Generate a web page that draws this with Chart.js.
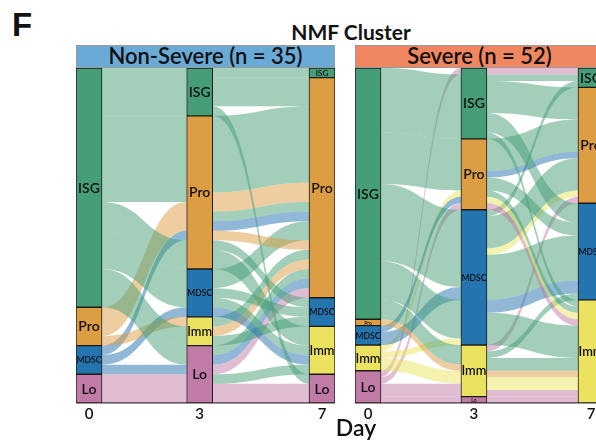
<!DOCTYPE html>
<html>
<head>
<meta charset="utf-8">
<script src="https://cdn.jsdelivr.net/npm/chart.js@4.4.1/dist/chart.umd.min.js"></script>
<style>
  html, body { margin: 0; padding: 0; background: #fff; overflow: hidden; }
  body { width: 596px; height: 442px; position: relative; font-family: Lato, "Open Sans", sans-serif; color: #111; }
  .abs { position: absolute; }
  #letter { left: 12px; top: 6px; font: bold 33px "Liberation Sans", Arial, sans-serif; }
  #title { left: 251px; width: 200px; top: 19px; text-align: center; font: 700 21px Lato, sans-serif; }
  .head { top: 45px; height: 23px; box-sizing: border-box; border: 1px solid #9a9a9a; text-align: center;
          font: 600 22px Lato, sans-serif; line-height: 20px; white-space: nowrap; }
  #headLeft { left: 76px; width: 259px; background: #6aaad6; }
  #headRight { left: 355px; width: 249px; background: #f08660; }
  #dayTitle { left: 306px; width: 100px; top: 413px; text-align: center; font: 600 23px Lato, sans-serif; }
  canvas { position: absolute; top: 68px; }
  #nonSevere { left: 76px; }
  #severe { left: 355px; }
</style>
</head>
<body>
<div id="letter" class="abs">F</div>
<div id="title" class="abs">NMF Cluster</div>
<div id="headLeft" class="abs head">Non-Severe (n = 35)</div>
<div id="headRight" class="abs head">Severe (n = 52)</div>
<canvas id="nonSevere" width="259" height="356"></canvas>
<canvas id="severe" width="249" height="356"></canvas>
<div id="dayTitle" class="abs">Day</div>
<script>
const strata = ["ISG", "Pro", "MDSC", "Imm", "Lo"];
const days = ["0", "3", "7"];
const stratumColors = ["#459e75", "#dd9e43", "#2474b0", "#ebe35f", "#c17ba7"];
const flowColors = [
  "rgba(69,158,117,0.5)",
  "rgba(221,158,67,0.5)",
  "rgba(36,116,176,0.5)",
  "rgba(235,227,95,0.5)",
  "rgba(193,123,167,0.5)",
];

// patients per cluster (ISG, Pro, MDSC, Imm, Lo)
const nonSevereDay0 = [25, 4, 3, 0, 3];
const nonSevereDay3 = [5, 16, 5, 3, 6];
const nonSevereDay7 = [1, 23, 3, 5, 3];
const severeDay0 = [39, 1, 3, 4, 5];
const severeDay3 = [11, 11, 21, 8, 1];
const severeDay7 = [3, 18, 15, 16, 0];

// flows: [from, to, day 0 cluster (fill), patients]
// listed in the order they arrive in the next cluster, top to bottom
const nonSevereFlow03 = [
  ["ISG", "ISG", "ISG", 5],
  ["ISG", "Pro", "ISG", 9], ["Pro", "Pro", "Pro", 3], ["MDSC", "Pro", "MDSC", 1], ["ISG", "Pro", "ISG", 3],
  ["ISG", "MDSC", "ISG", 4], ["MDSC", "MDSC", "MDSC", 1],
  ["Pro", "Imm", "Pro", 1], ["ISG", "Imm", "ISG", 2],
  ["ISG", "Lo", "ISG", 2], ["MDSC", "Lo", "MDSC", 1], ["Lo", "Lo", "Lo", 3],
];
const nonSevereFlow37 = [
  ["ISG", "ISG", "ISG", 1],
  ["ISG", "Pro", "ISG", 3], ["Pro", "Pro", "ISG", 8], ["Pro", "Pro", "Pro", 2], ["Pro", "Pro", "ISG", 1],
  ["Pro", "Pro", "MDSC", 1], ["MDSC", "Pro", "ISG", 2], ["Pro", "Pro", "Pro", 1], ["Imm", "Pro", "ISG", 1],
  ["Imm", "Pro", "Pro", 1], ["Lo", "Pro", "ISG", 1], ["Lo", "Pro", "MDSC", 1], ["Lo", "Pro", "Lo", 1],
  ["Pro", "MDSC", "ISG", 1], ["MDSC", "MDSC", "ISG", 1], ["Imm", "MDSC", "ISG", 1],
  ["Pro", "Imm", "ISG", 2], ["MDSC", "Imm", "ISG", 1], ["MDSC", "Imm", "MDSC", 1], ["Lo", "Imm", "ISG", 1],
  ["ISG", "Lo", "ISG", 1], ["Lo", "Lo", "Lo", 2],
];
const severeFlow03 = [
  ["Lo", "ISG", "Lo", 1], ["ISG", "ISG", "ISG", 10],
  ["ISG", "Pro", "ISG", 8], ["Imm", "Pro", "Imm", 1], ["MDSC", "Pro", "MDSC", 1], ["Lo", "Pro", "Lo", 1],
  ["ISG", "MDSC", "ISG", 12], ["MDSC", "MDSC", "MDSC", 2], ["ISG", "MDSC", "ISG", 6], ["Imm", "MDSC", "Imm", 1],
  ["ISG", "Imm", "ISG", 3], ["Pro", "Imm", "Pro", 1], ["Imm", "Imm", "Imm", 2], ["Lo", "Imm", "Lo", 2],
  ["Lo", "Lo", "Lo", 1],
];
const severeFlow37 = [
  ["ISG", "ISG", "Lo", 1], ["ISG", "ISG", "ISG", 1], ["MDSC", "ISG", "ISG", 1],
  ["ISG", "Pro", "ISG", 5], ["Pro", "Pro", "ISG", 5], ["Pro", "Pro", "MDSC", 1],
  ["MDSC", "Pro", "ISG", 5], ["MDSC", "Pro", "Imm", 1], ["Imm", "Pro", "Lo", 1],
  ["ISG", "MDSC", "ISG", 3], ["Pro", "MDSC", "ISG", 2], ["MDSC", "MDSC", "ISG", 7],
  ["MDSC", "MDSC", "MDSC", 2], ["Imm", "MDSC", "ISG", 1],
  ["ISG", "Imm", "ISG", 1], ["Pro", "Imm", "ISG", 1], ["Pro", "Imm", "Imm", 1], ["Pro", "Imm", "Lo", 1],
  ["MDSC", "Imm", "ISG", 5], ["Imm", "Imm", "ISG", 2], ["Imm", "Imm", "Pro", 1],
  ["Imm", "Imm", "Imm", 2], ["Imm", "Imm", "Lo", 1], ["Lo", "Imm", "Lo", 1],
];

const BAR_W = 26;
const axisX = [0, 0.95, 2];

// top of each cluster block, in patients from the top
function stackTops(counts) {
  const tops = [];
  let acc = 0;
  counts.forEach((c) => {
    tops.push(acc);
    acc += c;
  });
  return tops;
}

const alluvialPlugin = {
  id: "alluvial",
  beforeDatasetsDraw(chart, args, opts) {
    const { ctx, chartArea } = chart;
    const xs = chart.scales.x;
    const ys = chart.scales.y;
    ctx.save();
    ctx.beginPath();
    ctx.rect(chartArea.left, chartArea.top, chartArea.width, chartArea.height);
    ctx.clip();

    opts.flows.forEach((flows, step) => {
      const items = flows.map(([from, to, fill, n], idx) => ({
        from: strata.indexOf(from),
        to: strata.indexOf(to),
        fill: strata.indexOf(fill),
        n,
        idx,
      }));

      // leaving a cluster: ordered by destination
      const srcPos = stackTops(opts.counts[step]);
      [...items]
        .sort((a, b) => a.from - b.from || a.to - b.to || a.idx - b.idx)
        .forEach((f) => {
          f.a = srcPos[f.from];
          srcPos[f.from] += f.n;
        });
      // entering a cluster: in listed order
      const dstPos = stackTops(opts.counts[step + 1]);
      [...items]
        .sort((a, b) => a.to - b.to || a.idx - b.idx)
        .forEach((f) => {
          f.b = dstPos[f.to];
          dstPos[f.to] += f.n;
        });

      const x0 = xs.getPixelForValue(axisX[step]) + BAR_W / 2;
      const x1 = xs.getPixelForValue(axisX[step + 1]) - BAR_W / 2;
      const xm = (x0 + x1) / 2;
      items.forEach((f) => {
        const a0 = ys.getPixelForValue(f.a);
        const a1 = ys.getPixelForValue(f.a + f.n);
        const b0 = ys.getPixelForValue(f.b);
        const b1 = ys.getPixelForValue(f.b + f.n);
        ctx.fillStyle = flowColors[f.fill];
        ctx.beginPath();
        ctx.moveTo(x0, a0);
        ctx.bezierCurveTo(xm, a0, xm, b0, x1, b0);
        ctx.lineTo(x1, b1);
        ctx.bezierCurveTo(xm, b1, xm, a1, x0, a1);
        ctx.closePath();
        ctx.fill();
      });
    });
    ctx.restore();
  },
  afterDatasetsDraw(chart) {
    const { ctx } = chart;
    ctx.save();
    ctx.fillStyle = "#111";
    ctx.textAlign = "center";
    ctx.textBaseline = "middle";
    chart.data.datasets.forEach((ds, i) => {
      chart.getDatasetMeta(i).data.forEach((bar, j) => {
        if (!ds.data[j] || ds.data[j].y === null) return;
        const h = Math.abs(bar.base - bar.y);
        let size = 14;
        ctx.font = `600 ${size}px Lato, sans-serif`;
        const w = ctx.measureText(ds.label).width;
        if (w > BAR_W - 1) size = (size * (BAR_W - 1)) / w;
        if (size > h - 1.5) size = Math.max(h - 1.5, 5);
        ctx.font = `600 ${size}px Lato, sans-serif`;
        ctx.fillText(ds.label, bar.x, (bar.y + bar.base) / 2 + 0.5);
      });
    });
    ctx.restore();
  },
};

function makePanel(canvasId, dayCounts, flows) {
  const canvas = document.getElementById(canvasId);
  const total = dayCounts[0].reduce((s, v) => s + v, 0);
  const unit = (canvas.width - BAR_W) / (axisX[2] - axisX[0]);
  const pad = BAR_W / 2 / unit;

  const datasets = strata.map((name, k) => {
    const data = dayCounts.map((counts, d) => {
      const top = stackTops(counts)[k];
      return counts[k] > 0 ? { x: axisX[d], y: [top, top + counts[k]] } : { x: axisX[d], y: null };
    });
    return {
      label: name,
      data,
      backgroundColor: stratumColors[k],
      borderColor: "#1b1b1b",
      borderWidth: 1,
      borderSkipped: false,
      barThickness: BAR_W,
      grouped: false,
    };
  });

  return new Chart(canvas, {
    type: "bar",
    data: { datasets },
    plugins: [alluvialPlugin],
    options: {
      responsive: false,
      animation: false,
      devicePixelRatio: 1,
      layout: { padding: 0 },
      scales: {
        x: {
          type: "linear",
          offset: false,
          min: axisX[0] - pad,
          max: axisX[2] + pad,
          grid: { display: false, drawTicks: false },
          border: { display: true, color: "#333", width: 1.5 },
          afterBuildTicks: (axis) => {
            axis.ticks = axisX.map((v) => ({ value: v }));
          },
          afterFit: (axis) => {
            axis.height = 21;
          },
          ticks: {
            autoSkip: false,
            maxRotation: 0,
            padding: 2,
            color: "#111",
            font: { family: "Lato", size: 15, weight: "600" },
            callback: (v, i) => days[i],
          },
        },
        y: {
          display: false,
          reverse: true,
          min: 0,
          max: total,
        },
      },
      plugins: {
        legend: { display: false },
        tooltip: { enabled: false },
        alluvial: {
          counts: dayCounts,
          flows,
        },
      },
    },
  });
}

makePanel("nonSevere", [nonSevereDay0, nonSevereDay3, nonSevereDay7], [nonSevereFlow03, nonSevereFlow37]);
makePanel("severe", [severeDay0, severeDay3, severeDay7], [severeFlow03, severeFlow37]);
</script>
</body>
</html>
